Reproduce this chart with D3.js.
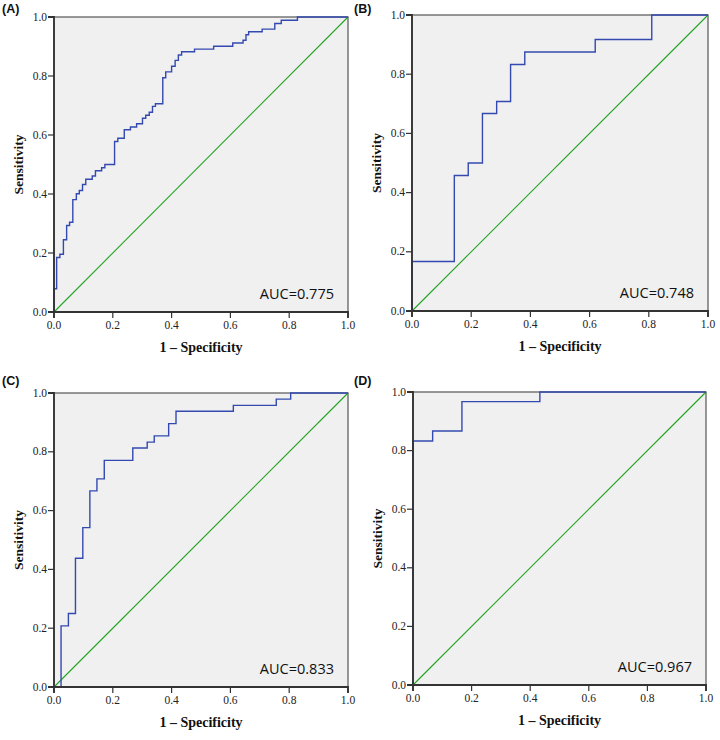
<!DOCTYPE html>
<html lang="en">
<head>
<meta charset="utf-8">
<title>ROC curves</title>
<script src="https://cdn.jsdelivr.net/npm/d3@7"></script>
<style>
  body { margin: 0; background: #fff; }
  .tick text { font-family: "Liberation Serif", "DejaVu Serif", serif; font-size: 11.5px; fill: #222; }
  .axis-title { font-family: "Liberation Serif", serif; font-weight: bold; fill: #111; }
  .panel-label { font-family: "Liberation Sans", Arial, sans-serif; font-weight: bold; font-size: 12.5px; fill: #111; }
  .auc { font-family: "Open Sans", "Noto Sans", sans-serif; font-size: 14.5px; fill: #111; }
</style>
</head>
<body>
<div id="chart"></div>
<script>
// ROC curve corner points: horizontal to fpr[i], then up to tpr[i]
var fprA = [0, 0, 0.009, 0.020, 0.032, 0.043, 0.053, 0.064, 0.076, 0.086, 0.097, 0.108, 0.130, 0.141, 0.162, 0.173,
            0.206, 0.217, 0.239, 0.260, 0.281, 0.301, 0.312, 0.324, 0.335, 0.345, 0.370, 0.380, 0.400, 0.412, 0.423,
            0.434, 0.478, 0.543, 0.608, 0.643, 0.653, 0.662, 0.708, 0.751, 0.773, 0.828, 1];
var tprA = [0, 0.079, 0.185, 0.196, 0.245, 0.293, 0.304, 0.381, 0.401, 0.412, 0.432, 0.450, 0.461, 0.479, 0.489, 0.500,
            0.578, 0.589, 0.618, 0.627, 0.638, 0.657, 0.667, 0.677, 0.697, 0.706, 0.794, 0.814, 0.833, 0.853, 0.871,
            0.882, 0.891, 0.901, 0.912, 0.921, 0.940, 0.950, 0.959, 0.978, 0.989, 1, 1];

var fprB = [0, 0, 0.143, 0.190, 0.238, 0.286, 0.333, 0.381, 0.619, 0.810, 1];
var tprB = [0, 0.167, 0.458, 0.500, 0.667, 0.708, 0.833, 0.875, 0.917, 1, 1];

var fprC = [0, 0.024, 0.049, 0.073, 0.098, 0.122, 0.146, 0.171, 0.268, 0.317, 0.341, 0.390, 0.415, 0.610, 0.756, 0.805, 1];
var tprC = [0, 0.208, 0.250, 0.438, 0.542, 0.667, 0.708, 0.771, 0.813, 0.833, 0.854, 0.896, 0.938, 0.958, 0.979, 1, 1];

var fprD = [0, 0, 0.067, 0.167, 0.433, 1];
var tprD = [0, 0.833, 0.867, 0.967, 1, 1];

var panelLabels = ["(A)", "(B)", "(C)", "(D)"];
var aucLabels = ["AUC=0.775", "AUC=0.748", "AUC=0.833", "AUC=0.967"];
var tickValues = [0, 0.2, 0.4, 0.6, 0.8, 1.0];

var curves = [[fprA, tprA], [fprB, tprB], [fprC, tprC], [fprD, tprD]];

// panel placement on the page
var panels = [
  { left: 54, top: 17, w: 294, h: 295, lx: 2, ly: 13 },
  { left: 412, top: 15, w: 296, h: 296, lx: 354, ly: 13 },
  { left: 54, top: 393, w: 294, h: 294, lx: 2, ly: 385 },
  { left: 413, top: 392, w: 293, h: 293, lx: 354, ly: 385 }
];

var svg = d3.select("#chart").append("svg")
  .attr("width", 720)
  .attr("height", 740);

panels.forEach(function(p, i) {
  var x = d3.scaleLinear().domain([0, 1]).range([0, p.w]);
  var y = d3.scaleLinear().domain([0, 1]).range([p.h, 0]);

  svg.append("text")
    .attr("class", "panel-label")
    .attr("x", p.lx)
    .attr("y", p.ly)
    .text(panelLabels[i]);

  var g = svg.append("g").attr("transform", "translate(" + p.left + "," + p.top + ")");

  g.append("rect")
    .attr("width", p.w)
    .attr("height", p.h)
    .attr("fill", "#f0f0f0")
    .attr("stroke", "#555")
    .attr("stroke-width", 1.2);

  // reference diagonal
  g.append("line")
    .attr("x1", x(0)).attr("y1", y(0))
    .attr("x2", x(1)).attr("y2", y(1))
    .attr("stroke", "#22a322")
    .attr("stroke-width", 1.1);

  var pts = curves[i][0].map(function(v, k) { return [v, curves[i][1][k]]; });
  var line = d3.line()
    .x(function(d) { return x(d[0]); })
    .y(function(d) { return y(d[1]); })
    .curve(d3.curveStepAfter);

  g.append("path")
    .datum(pts)
    .attr("d", line)
    .attr("fill", "none")
    .attr("stroke", "#3349b0")
    .attr("stroke-width", 1.4);

  var xAxis = g.append("g")
    .attr("transform", "translate(0," + p.h + ")")
    .call(d3.axisBottom(x).tickValues(tickValues).tickFormat(d3.format(".1f"))
      .tickSize(6).tickPadding(3).offset(0));
  var yAxis = g.append("g")
    .call(d3.axisLeft(y).tickValues(tickValues).tickFormat(d3.format(".1f"))
      .tickSize(6).tickPadding(1).offset(0));
  [xAxis, yAxis].forEach(function(a) {
    a.select(".domain").attr("stroke", "#333").attr("stroke-width", 1.8);
    a.selectAll(".tick line").attr("stroke", "#333").attr("stroke-width", 1.2);
  });

  g.append("text")
    .attr("class", "axis-title")
    .style("font-size", "14px")
    .attr("x", p.w / 2)
    .attr("y", p.h + 40)
    .attr("text-anchor", "middle")
    .text("1 \u2013 Specificity");

  g.append("text")
    .attr("class", "axis-title")
    .style("font-size", "13.5px")
    .attr("transform", "translate(-36," + (p.h / 2) + ") rotate(-90)")
    .attr("text-anchor", "middle")
    .attr("dy", "0.35em")
    .text("Sensitivity");

  g.append("text")
    .attr("class", "auc")
    .attr("x", p.w - 14)
    .attr("y", p.h - 13)
    .attr("text-anchor", "end")
    .text(aucLabels[i]);
});
</script>
</body>
</html>
